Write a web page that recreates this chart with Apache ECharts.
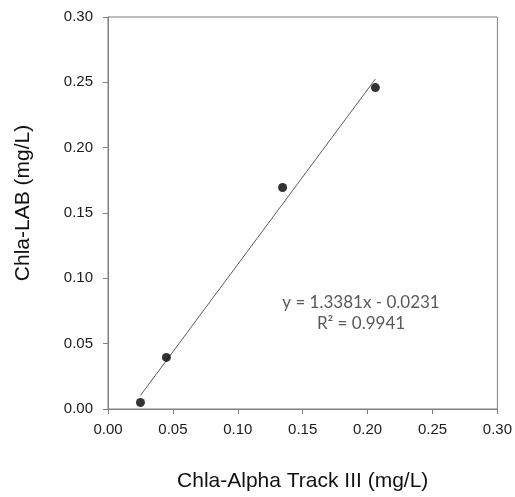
<!DOCTYPE html>
<html>
<head>
<meta charset="utf-8">
<script src="https://cdn.jsdelivr.net/npm/echarts@6/dist/echarts.min.js"></script>
<style>
  html, body { margin: 0; padding: 0; background: #fff; }
  #chart { width: 515px; height: 497px; }
</style>
</head>
<body>
<div id="chart"></div>
<script>
// Measured chlorophyll-a: Alpha Track III probe vs. laboratory analysis (mg/L)
const alphaTrack = [0.025, 0.045, 0.1345, 0.206];
const labChla = [0.005, 0.0395, 0.1695, 0.246];

// Linear fit reported for the calibration
const fitSlope = 1.3381;
const fitIntercept = -0.0231;
const fitR2 = 0.9941;

const axisMin = 0;
const axisMax = 0.30;
const axisStep = 0.05;

const points = alphaTrack.map((x, i) => [x, labChla[i]]);
const xLo = Math.min(...alphaTrack);
const xHi = Math.max(...alphaTrack);
const fitLine = [xLo, xHi].map(x => [x, fitSlope * x + fitIntercept]);

const sign = fitIntercept < 0 ? ' - ' : ' + ';
const eqText = 'y = ' + fitSlope.toFixed(4) + 'x' + sign + Math.abs(fitIntercept).toFixed(4);
const r2Text = 'R\u00B2 = ' + fitR2.toFixed(4);

const chart = echarts.init(document.getElementById('chart'), null, { renderer: 'canvas' });

const axisGray = '#7f7f7f';
const sansFamily = 'Liberation Sans, Arial, sans-serif';
const labelFont = { fontFamily: sansFamily, fontSize: 15, color: '#1a1a1a' };

chart.setOption({
  animation: false,
  backgroundColor: '#ffffff',
  grid: {
    left: 108, top: 17, right: 17, bottom: 88,
    show: true, borderColor: axisGray, borderWidth: 1, backgroundColor: 'transparent'
  },
  xAxis: {
    type: 'value', min: axisMin, max: axisMax, interval: axisStep,
    name: 'Chla-Alpha Track III (mg/L)',
    nameLocation: 'middle', nameGap: 62,
    nameTextStyle: { fontFamily: sansFamily, fontSize: 21, color: '#111' },
    axisLine: { show: true, lineStyle: { color: axisGray, width: 1 } },
    axisTick: { show: true, inside: false, length: 5, lineStyle: { color: axisGray } },
    axisLabel: Object.assign({ margin: 13, formatter: v => v.toFixed(2) }, labelFont),
    splitLine: { show: false }
  },
  yAxis: {
    type: 'value', min: axisMin, max: axisMax, interval: axisStep,
    name: 'Chla-LAB (mg/L)',
    nameLocation: 'middle', nameGap: 74,
    nameTextStyle: { fontFamily: sansFamily, fontSize: 21, color: '#111', padding: [0, 0, 0, 20] },
    axisLine: { show: true, lineStyle: { color: axisGray, width: 1 } },
    axisTick: { show: true, inside: false, length: 5, lineStyle: { color: axisGray } },
    axisLabel: Object.assign({ margin: 15, formatter: v => v.toFixed(2) }, labelFont),
    splitLine: { show: false }
  },
  series: [
    {
      type: 'line',
      data: fitLine,
      symbol: 'none',
      lineStyle: { color: '#333', width: 0.8 },
      z: 2
    },
    {
      type: 'scatter',
      data: points,
      symbol: 'circle',
      symbolSize: 9,
      itemStyle: { color: '#000' },
      z: 3
    }
  ],
  graphic: [
    {
      type: 'text',
      x: 361, y: 292,
      style: {
        text: eqText + '\n' + r2Text,
        fontFamily: 'Lato, Open Sans, sans-serif',
        fontSize: 17,
        lineHeight: 21,
        fill: '#595959',
        align: 'center',
        verticalAlign: 'top'
      }
    }
  ]
});
</script>
</body>
</html>
